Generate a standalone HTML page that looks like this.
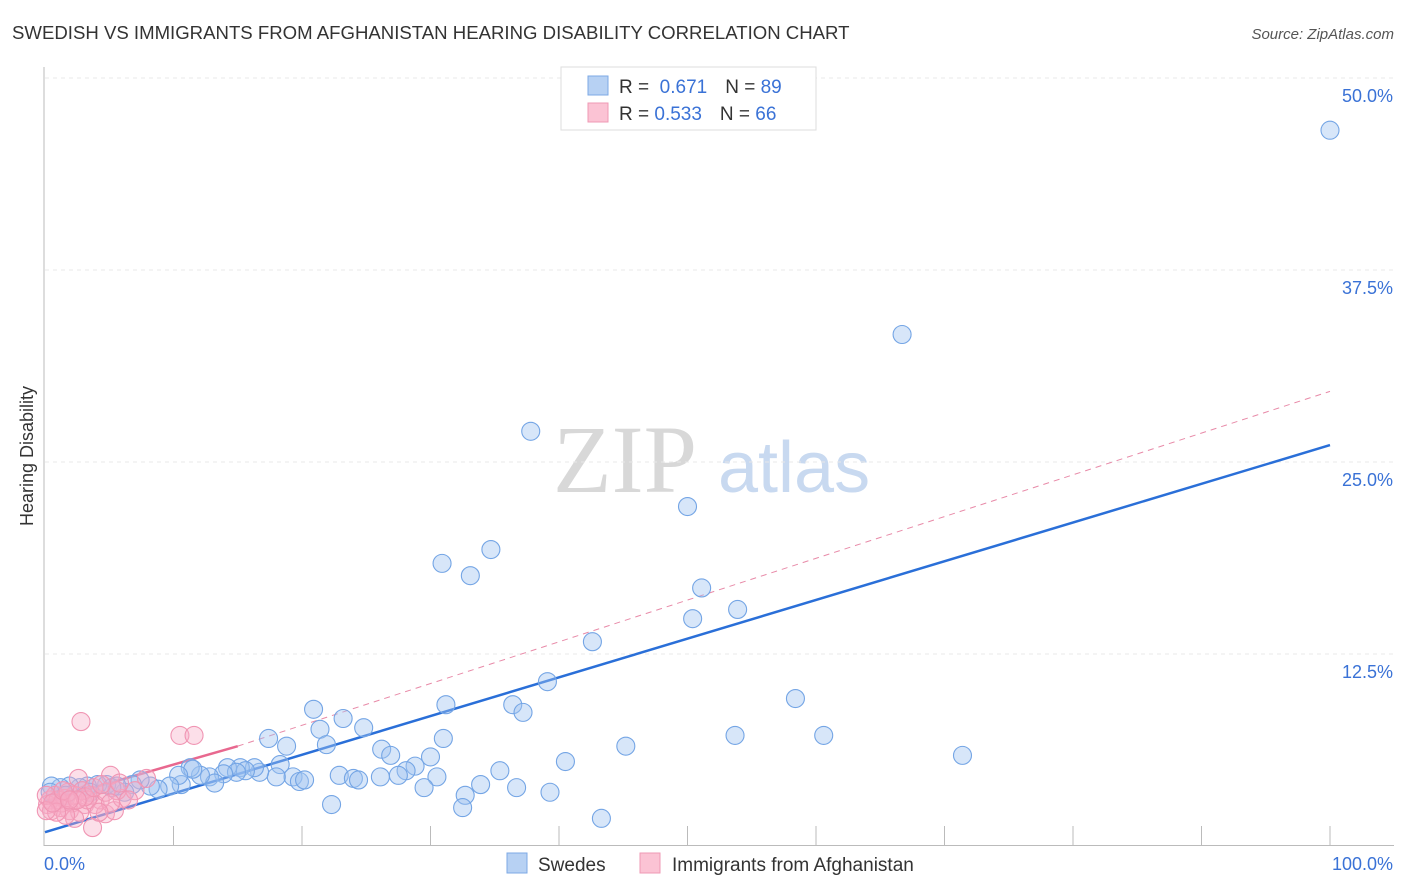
<!DOCTYPE html>
<html><head><meta charset="utf-8">
<style>
body{margin:0;background:#fff;font-family:"Liberation Sans",sans-serif;}
svg{display:block}
</style></head>
<body>
<svg id="chart" width="1406" height="892" xmlns="http://www.w3.org/2000/svg" font-family="Liberation Sans, sans-serif">
<text x="12" y="39" font-size="18.6" fill="#333">SWEDISH VS IMMIGRANTS FROM AFGHANISTAN HEARING DISABILITY CORRELATION CHART</text>
<text x="1394" y="39" font-size="15" fill="#555" text-anchor="end" font-style="italic">Source: ZipAtlas.com</text>
<g>
<text x="553" y="492" font-size="96" font-family="Liberation Serif, serif" fill="#d8d8d8">ZIP</text>
<text x="718" y="492" font-size="72" fill="#c8d9f0">atlas</text>
</g>
<g id="grid"></g>
<g id="axes"></g>
<g id="lines"></g>
<g id="pts"></g>
<text transform="translate(33,456) rotate(-90)" font-size="18" fill="#333" text-anchor="middle">Hearing Disability</text>
<g>
<rect x="561" y="67" width="255" height="63" fill="#fff" stroke="#ddd"/>
<rect x="588" y="76" width="20" height="19" fill="#b7d1f3" stroke="#7ca9e6"/>
<rect x="588" y="103" width="20" height="19" fill="#fbc3d4" stroke="#ef99b4"/>
<text x="619" y="93" font-size="19" fill="#333">R = <tspan fill="#3a72d6">&#160;0.671</tspan><tspan dx="18">N = </tspan><tspan fill="#3a72d6">89</tspan></text>
<text x="619" y="120" font-size="19" fill="#333">R = <tspan fill="#3a72d6">0.533</tspan><tspan dx="18">N = </tspan><tspan fill="#3a72d6">66</tspan></text>
</g>
<g>
<rect x="507" y="853" width="20" height="20" fill="#b7d1f3" stroke="#7ca9e6"/>
<text x="538" y="871" font-size="19" fill="#333">Swedes</text>
<rect x="640" y="853" width="20" height="20" fill="#fbc3d4" stroke="#ef99b4"/>
<text x="672" y="871" font-size="19" fill="#333">Immigrants from Afghanistan</text>
</g>
</svg>
<script>
const blueX=[100,66.7,37.8,50.0,34.7,30.9,33.1,51.1,53.9,50.4,42.6,39.1,58.4,31.2,36.4,37.2,20.9,23.2,21.4,24.8,17.4,18.8,21.9,31.0,45.2,53.7,60.6,71.4,26.2,26.9,30.0,40.5,28.8,28.1,27.5,35.4,30.5,22.9,24.0,24.4,26.1,18.3,19.3,19.8,20.2,18.0,16.7,16.3,15.2,15.6,14.2,14.9,13.9,12.8,13.2,12.1,11.3,11.5,10.6,10.4,9.7,8.8,8.2,7.4,6.8,6.2,5.6,4.8,4.1,3.3,2.7,1.9,1.2,0.5,32.7,32.5,33.9,36.7,39.3,29.5,22.3,43.3,0.4,1.6,3.5,5.2];
const blueY=[46.6,33.3,27.0,22.1,19.3,18.4,17.6,16.8,15.4,14.8,13.3,10.7,9.6,9.2,9.2,8.7,8.9,8.3,7.6,7.7,7.0,6.5,6.6,7.0,6.5,7.2,7.2,5.9,6.3,5.9,5.8,5.5,5.2,4.9,4.6,4.9,4.5,4.6,4.4,4.3,4.5,5.3,4.5,4.2,4.3,4.5,4.8,5.1,5.1,4.9,5.1,4.8,4.7,4.5,4.1,4.6,5.1,5.0,4.0,4.6,3.9,3.7,3.9,4.3,4.0,3.5,3.9,4.0,4.0,3.9,3.8,3.9,3.8,3.9,3.3,2.5,4.0,3.8,3.5,3.8,2.7,1.8,3.5,3.3,3.5,3.8];
const pinkX=[2.8,10.5,11.6,5.1,7.9,2.6,3.7,4.7,5.4,6.0,4.3,3.1,1.9,1.2,0.4,0.8,1.6,2.3,3.5,0.2,0.5,1.3,2.1,2.7,3.9,1.0,1.8,2.9,3.3,4.7,5.6,7.0,6.5,5.1,4.2,2.3,1.6,0.9,0.1,0.1,0.6,1.4,3.1,2.5,3.8,4.4,5.8,1.9];
const pinkY=[8.1,7.2,7.2,4.6,4.4,4.4,1.2,2.1,2.3,3.1,3.0,2.7,2.3,2.5,3.0,3.3,3.1,3.3,3.3,2.7,2.3,2.8,2.8,2.2,2.7,3.0,3.5,3.6,3.0,3.5,3.6,3.6,3.0,2.8,2.2,1.8,2.0,2.2,3.3,2.3,2.8,3.6,3.2,3.0,3.8,4.0,4.1,3.0];
const yTicks=[12.5,25,37.5,50];
const yTickLabels=["12.5%","25.0%","37.5%","50.0%"];
const blueTrend=[0.9,26.1];
const pinkTrend=[2.9,6.5,29.6];
const pinkSolidEnd=15;

const NS="http://www.w3.org/2000/svg";
const X=v=>45+v*12.85, Y=v=>846-v*15.36;
function mk(tag,attrs,parent){const e=document.createElementNS(NS,tag);for(const k in attrs)e.setAttribute(k,attrs[k]);parent.appendChild(e);return e;}
const grid=document.getElementById('grid'),axes=document.getElementById('axes'),lines=document.getElementById('lines'),pts=document.getElementById('pts');
yTicks.forEach((t,i)=>{
 const g=mk('line',{x1:45,x2:1394,y1:Y(t),y2:Y(t),stroke:'#e8e8e8','stroke-dasharray':'4,4'},grid);
 
 
 const l=mk('text',{x:1393,y:Y(t)+24,'font-size':18,fill:'#3a72d6','text-anchor':'end'},axes);
 l.textContent=yTickLabels[i];
 
 
});
mk('line',{x1:44,x2:44,y1:67,y2:846,stroke:'#bbb'},axes);
mk('line',{x1:44,x2:1394,y1:845.5,y2:845.5,stroke:'#bbb'},axes);
for(let i=1;i<=10;i++){const t=mk('line',{x1:X(i*10),x2:X(i*10),y1:826,y2:846,stroke:'#bbb'},axes);
 
 }
const x0=mk('text',{x:44,y:870,'font-size':18,fill:'#3a72d6'},axes);x0.textContent='0.0%';


const x1=mk('text',{x:1393,y:870,'font-size':18,fill:'#3a72d6','text-anchor':'end'},axes);x1.textContent='100.0%';



function circ(xs,ys,fill,stroke,name){xs.forEach((x,i)=>{const c=mk('circle',{cx:X(x),cy:Y(ys[i]),r:9,fill:fill,stroke:stroke,'stroke-width':1.1},pts);
 
 });}
circ(blueX,blueY,'rgba(160,196,240,0.42)','#74a5e5','swede-point');
circ(pinkX,pinkY,'rgba(246,170,196,0.38)','#f095b3','afghan-point');

const bl=mk('line',{x1:X(0),y1:Y(blueTrend[0]),x2:X(100),y2:Y(blueTrend[1]),stroke:'#2a6fd8','stroke-width':2.5},lines);


const pd=mk('line',{x1:X(pinkSolidEnd),y1:Y(pinkTrend[1]),x2:X(100),y2:Y(pinkTrend[2]),stroke:'#e88aa8','stroke-width':1,'stroke-dasharray':'6,5'},lines);


const ps=mk('line',{x1:X(0),y1:Y(pinkTrend[0]),x2:X(pinkSolidEnd),y2:Y(pinkTrend[1]),stroke:'#e8688f','stroke-width':2.5},lines);


</script>
</body></html>
